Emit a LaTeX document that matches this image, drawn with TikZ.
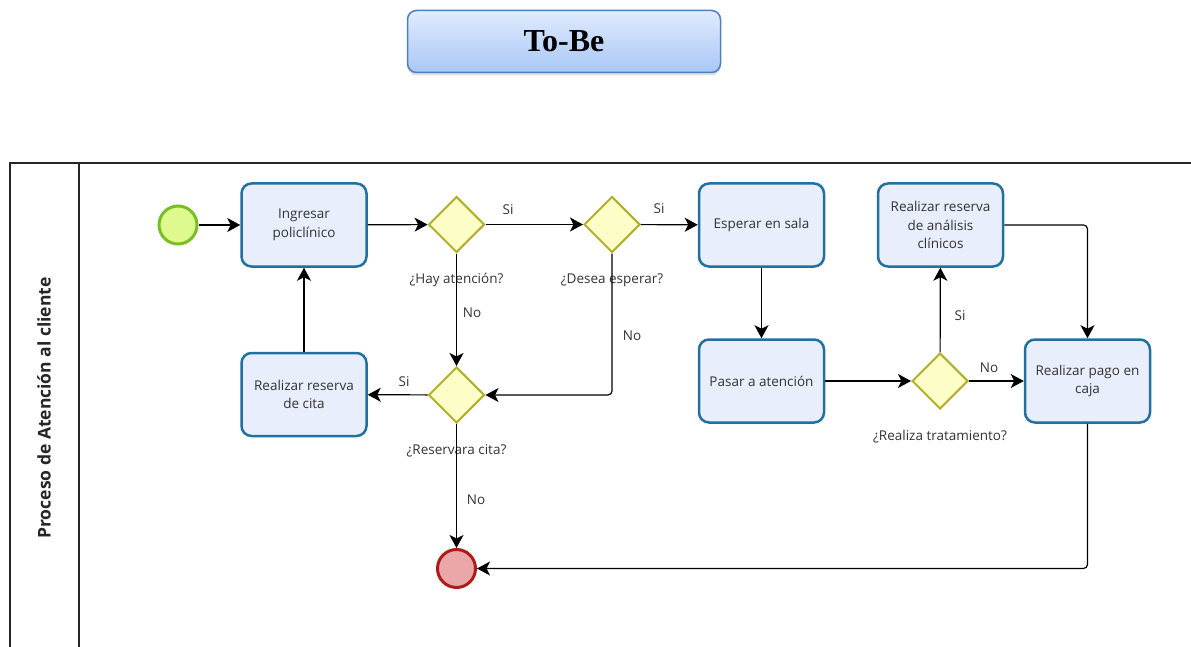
\documentclass[tikz,border=0pt]{standalone}
\usepackage{fontspec}
\setmainfont{Open Sans}
\newfontfamily\ttlfont{Liberation Serif}
\usetikzlibrary{shapes.geometric,arrows.meta,shadows}
\definecolor{taskfill}{HTML}{E9EEFC}
\definecolor{taskdraw}{HTML}{21709E}
\definecolor{gwfill}{HTML}{FDFDC8}
\definecolor{gwdraw}{HTML}{B0B02A}
\definecolor{stfill}{HTML}{DEF98E}
\definecolor{stdraw}{HTML}{79BE27}
\definecolor{enfill}{HTML}{EBA7A7}
\definecolor{endraw}{HTML}{AE1B1B}
\definecolor{txt}{HTML}{333333}
\definecolor{ttltop}{HTML}{E0EBFD}
\definecolor{ttlbot}{HTML}{A8C7F7}
\definecolor{ttldraw}{HTML}{4F80BD}
\tikzset{
  task/.style={draw=taskdraw, fill=taskfill, line width=2.5pt, rounded corners=10pt,
    minimum width=125pt, minimum height=83pt, align=center, font=\fontsize{13.5}{18.5}\selectfont, text=txt, inner sep=2pt},
  gw/.style={diamond, draw=gwdraw, fill=gwfill, line width=2pt, minimum width=56pt, minimum height=56pt, inner sep=0pt, aspect=1},
  startev/.style={circle, draw=stdraw, fill=stfill, line width=3pt, minimum size=38pt, inner sep=0pt},
  endev/.style={circle, draw=endraw, fill=enfill, line width=3pt, minimum size=38pt, inner sep=0pt},
  flow/.style={line width=1.2pt, -{Stealth[length=13pt,width=14pt,inset=3.5pt]}, rounded corners=4pt},
  lbl/.style={font=\fontsize{13.5}{16}\selectfont, text=txt, inner sep=1pt},
  pool/.style={line width=1.4pt, draw=black!85}
}
\begin{document}
\begin{tikzpicture}[x=1pt,y=-1pt]
\useasboundingbox (0,0) rectangle (1191,647);
% title
\node[draw=ttldraw, line width=1.5pt, rounded corners=9pt, top color=ttltop, bottom color=ttlbot,
  minimum width=313pt, minimum height=62pt, drop shadow={opacity=0.25, shadow xshift=0pt, shadow yshift=-3pt},
  font=\ttlfont\bfseries\fontsize{32}{36}\selectfont] (title) at (564,41.5) {To-Be};
% pool
\draw[pool] (1191,163) coordinate (ptr) -- (10,163) coordinate (ptl) -- (10,647) coordinate (pbl);
\draw[pool] (79,163) coordinate (lt) -- (79,647) coordinate (lb);
\node[rotate=90, font=\bfseries\fontsize{17.5}{20}\selectfont, text=black!85] (lane) at (44,408) {Proceso de Atención al cliente};
% nodes
\node[startev] (start) at (178,225) {};
\node[task] (ing) at (304,225) {Ingresar\\policlínico};
\node[gw] (d1) at (456.5,224.5) {};
\node[gw] (d2) at (612,224.5) {};
\node[task] (esp) at (761.5,225) {Esperar en sala};
\node[task] (ana) at (940.5,225) {Realizar reserva\\de análisis\\clínicos};
\node[task] (cita) at (304,394.5) {Realizar reserva\\de cita};
\node[gw] (d3) at (456.5,395) {};
\node[task] (pas) at (761.5,381) {Pasar a atención};
\node[gw] (d4) at (940,381) {};
\node[task] (pago) at (1087.5,381) {Realizar pago en\\caja};
\node[endev] (fin) at (456.5,568.5) {};
% gateway labels
\node[lbl] (l1) at (456.5,280) {¿Hay atención?};
\node[lbl] (l2) at (612,280) {¿Desea esperar?};
\node[lbl] (l3) at (456.5,451) {¿Reservara cita?};
\node[lbl] (l4) at (940,437) {¿Realiza tratamiento?};
% flows
\draw[flow] (start) -- (ing);
\draw[flow] (ing) -- (d1);
\draw[flow] (d1) -- (d2);
\draw[flow] (d2) -- (esp);
\draw[flow] (d1) -- (d3);
\draw[flow] (d2.south) |- (d3.east);
\draw[flow] (d3) -- (cita);
\draw[flow] (cita) -- (ing);
\draw[flow] (d3) -- (fin);
\draw[flow] (esp) -- (pas);
\draw[flow] (pas) -- (d4);
\draw[flow] (d4) -- (ana);
\draw[flow] (d4) -- (pago);
\draw[flow] (ana.east) -| (pago.north);
\draw[flow] (pago.south) |- (fin.east);
% flow labels
\node[lbl] (s1) at (508,210) {Si};
\node[lbl] (s2) at (659,209) {Si};
\node[lbl] (n1) at (472,313) {No};
\node[lbl] (n2) at (632,336) {No};
\node[lbl] (s3) at (404,382) {Si};
\node[lbl] (n3) at (476,500) {No};
\node[lbl] (s4) at (960,316) {Si};
\node[lbl] (n4) at (989,368) {No};
\end{tikzpicture}
\end{document}
